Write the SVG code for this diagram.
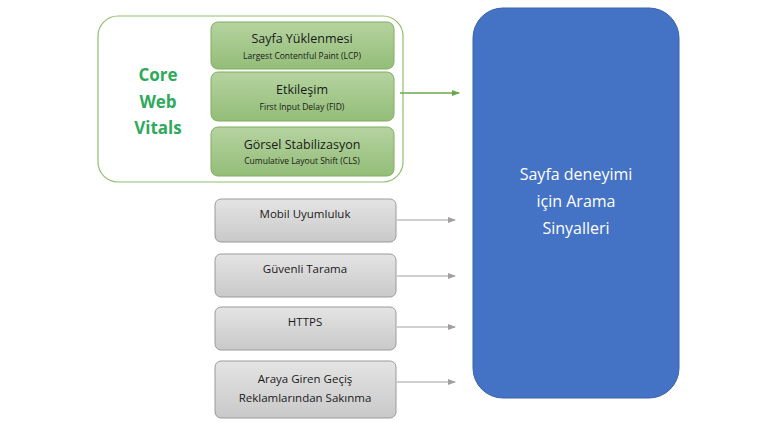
<svg xmlns="http://www.w3.org/2000/svg" width="768" height="423" viewBox="0 0 768 423">
<style>
.g{fill:url(#gg);stroke:#7fae5f;stroke-width:1}
.r{fill:url(#gr);stroke:#9a9a9a;stroke-width:1}
.t{font-family:"Open Sans","Liberation Sans",sans-serif;text-anchor:middle;fill:#1a1a1a}
.big{font-size:12.5px}.sm{font-size:8.5px}.gt{font-size:11.5px}
</style>
<defs>
<linearGradient id="gg" x1="0" y1="0" x2="0" y2="1"><stop offset="0" stop-color="#b6d3a0"/><stop offset="1" stop-color="#93bd78"/></linearGradient>
<linearGradient id="gr" x1="0" y1="0" x2="0" y2="1"><stop offset="0" stop-color="#e4e4e4"/><stop offset="1" stop-color="#c9c9c9"/></linearGradient>
<marker id="ag" markerWidth="8" markerHeight="8" refX="7" refY="4" orient="auto" markerUnits="userSpaceOnUse"><path d="M0,1 L8,4 L0,7z" fill="#6aa84f"/></marker>
<marker id="ar" markerWidth="8" markerHeight="8" refX="7" refY="4" orient="auto" markerUnits="userSpaceOnUse"><path d="M0,1 L8,4 L0,7z" fill="#a0a0a0"/></marker>
</defs>
<rect width="768" height="423" fill="#fff"/>
<g id="cwv">
<rect x="98" y="16" width="305" height="166" rx="20" fill="#fff" stroke="#8fbf6f" stroke-width="1.2"/>
<text x="158" y="81" font-family="Open Sans,Liberation Sans,sans-serif" font-size="17" font-weight="bold" fill="#2eaa5c" text-anchor="middle">Core</text>
<text x="158" y="108" font-family="Open Sans,Liberation Sans,sans-serif" font-size="17" font-weight="bold" fill="#2eaa5c" text-anchor="middle">Web</text>
<text x="158" y="134" font-family="Open Sans,Liberation Sans,sans-serif" font-size="17" font-weight="bold" fill="#2eaa5c" text-anchor="middle">Vitals</text>
</g>
<g id="lcp"><rect class="g" x="211" y="22" width="183" height="47" rx="7"/><text class="t big" x="302" y="43">Sayfa Yüklenmesi</text><text class="t sm" x="302" y="59">Largest Contentful Paint (LCP)</text></g>
<g id="fid"><rect class="g" x="211" y="72" width="183" height="49" rx="7"/><text class="t big" x="302" y="94">Etkileşim</text><text class="t sm" x="302" y="110">First Input Delay (FID)</text></g>
<g id="cls"><rect class="g" x="211" y="127" width="183" height="49" rx="7"/><text class="t big" x="302" y="149">Görsel Stabilizasyon</text><text class="t sm" x="302" y="164">Cumulative Layout Shift (CLS)</text></g>
<g id="mobil"><rect class="r" x="215" y="199" width="181" height="43" rx="6"/><text class="t gt" x="305" y="218">Mobil Uyumluluk</text></g>
<g id="guvenli"><rect class="r" x="215" y="254" width="181" height="43" rx="6"/><text class="t gt" x="305" y="273">Güvenli Tarama</text></g>
<g id="https"><rect class="r" x="215" y="307" width="181" height="43" rx="6"/><text class="t gt" x="305" y="326">HTTPS</text></g>
<g id="araya"><rect class="r" x="215" y="361" width="181" height="57" rx="6"/><text class="t gt" x="305" y="383">Araya Giren Geçiş</text><text class="t gt" x="305" y="402">Reklamlarından Sakınma</text></g>
<g id="sinyal"><rect x="473" y="8" width="206" height="390" rx="30" fill="#4472c4" stroke="#3a62a8"/>
<text x="576" y="180" font-family="Open Sans,Liberation Sans,sans-serif" font-size="16" fill="#fff" text-anchor="middle">Sayfa deneyimi</text>
<text x="576" y="207" font-family="Open Sans,Liberation Sans,sans-serif" font-size="16" fill="#fff" text-anchor="middle">için Arama</text>
<text x="576" y="234" font-family="Open Sans,Liberation Sans,sans-serif" font-size="16" fill="#fff" text-anchor="middle">Sinyalleri</text></g>
<g id="connectors" fill="none">
<line x1="400" y1="93" x2="459" y2="93" stroke="#6aa84f" stroke-width="1.5" marker-end="url(#ag)"/>
<line x1="397" y1="220" x2="455" y2="220" stroke="#a0a0a0" marker-end="url(#ar)"/>
<line x1="397" y1="276" x2="455" y2="276" stroke="#a0a0a0" marker-end="url(#ar)"/>
<line x1="397" y1="327" x2="455" y2="327" stroke="#a0a0a0" marker-end="url(#ar)"/>
<line x1="397" y1="382" x2="455" y2="382" stroke="#a0a0a0" marker-end="url(#ar)"/>
</g>
</svg>
